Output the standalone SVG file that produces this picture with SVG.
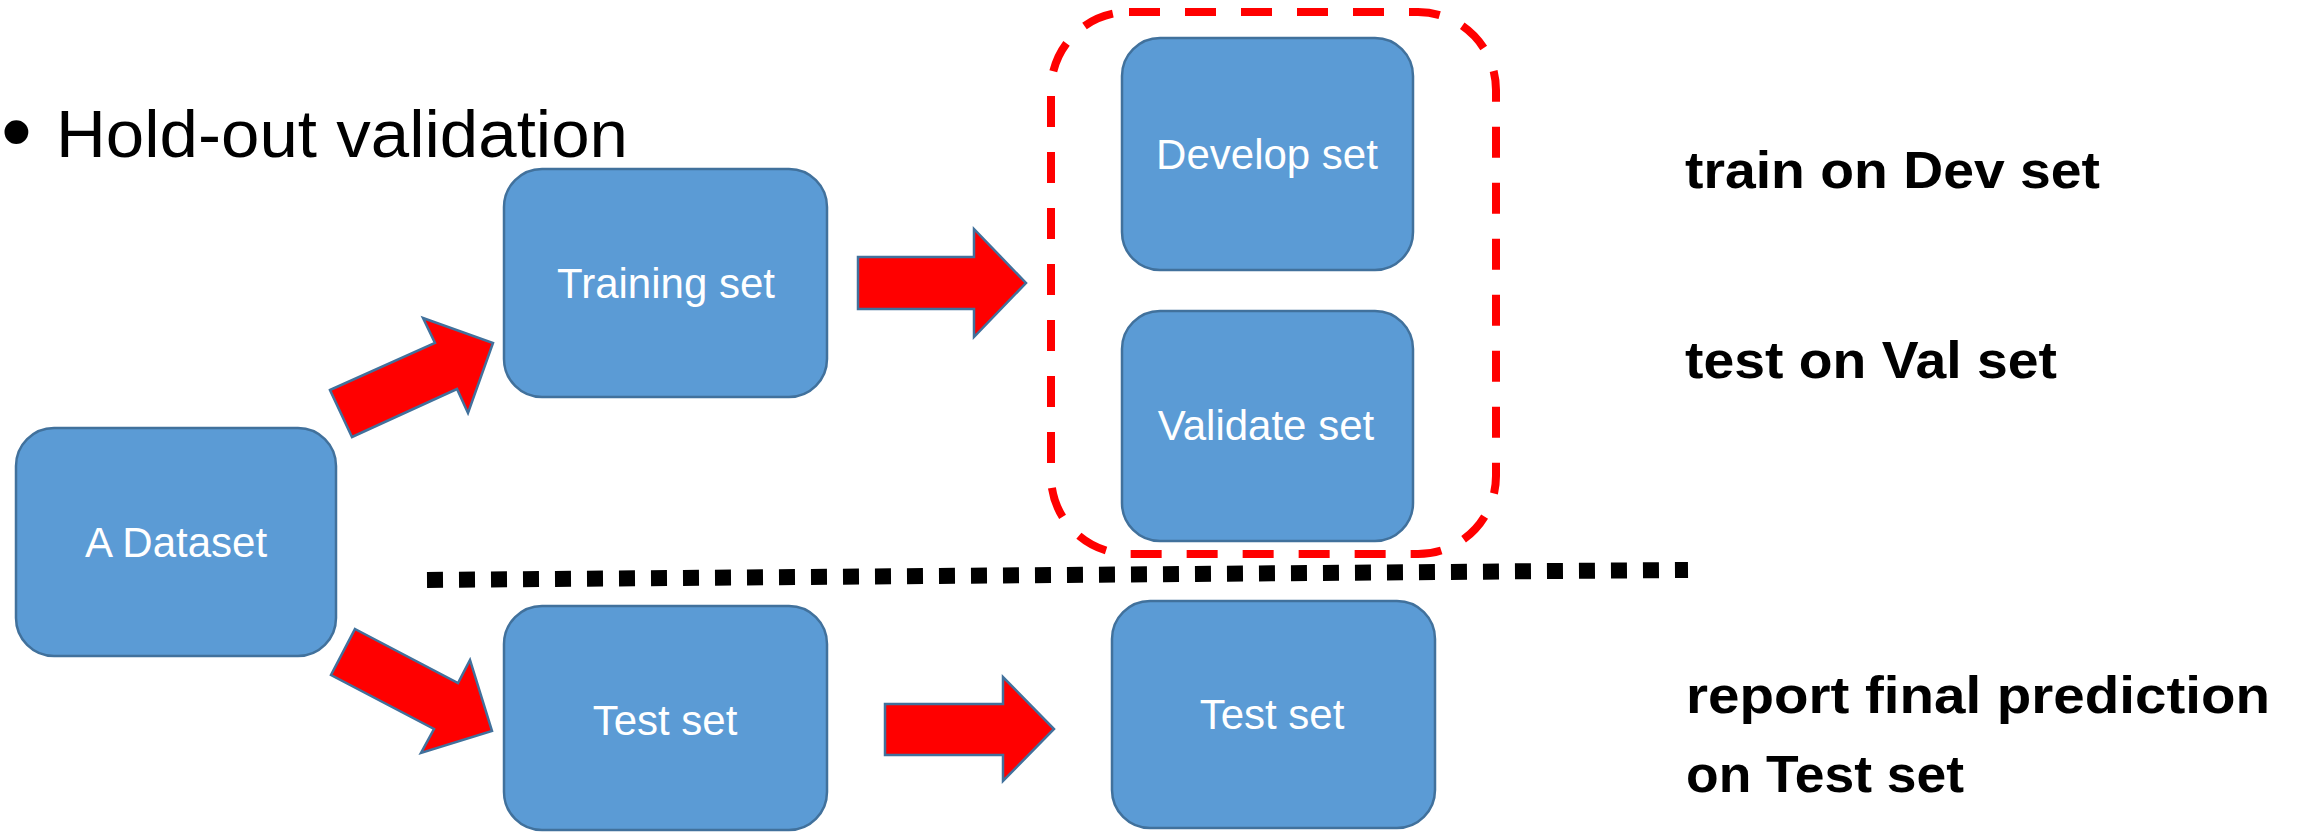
<svg xmlns="http://www.w3.org/2000/svg" width="2303" height="832" viewBox="0 0 2303 832">
  <style>
    .node rect { fill: #5B9BD5; stroke: #41719C; stroke-width: 2.5; }
    .node text { fill: #FFFFFF; font-family: "Liberation Sans", Arial, sans-serif; font-size: 42px; text-anchor: middle; }
    .arrow { fill: #FF0000; stroke: #41719C; stroke-width: 2.5; stroke-linejoin: miter; }
    .note { fill: #000000; font-family: "Liberation Sans", Arial, sans-serif; font-weight: bold; font-size: 52px; }
  </style>

  <!-- title bullet -->
  <text x="1" y="161" font-family="Liberation Sans, Arial, sans-serif" font-size="88" fill="#000">•</text>
  <text x="56" y="157" font-family="Liberation Sans, Arial, sans-serif" font-size="67" fill="#000" textLength="572" lengthAdjust="spacingAndGlyphs">Hold-out validation</text>

  <!-- grouping frame around the split of the training set -->
  <rect id="split-frame" x="1051" y="12" width="445" height="542" rx="78" ry="78" fill="none" stroke="#FF0000" stroke-width="8" stroke-dasharray="31 25"/>

  <!-- separator between training and test branches -->
  <line id="separator" x1="427" y1="580" x2="1688" y2="570" stroke="#000" stroke-width="16" stroke-dasharray="16 16"/>

  <g id="connectors">
    <polygon class="arrow" points="330,390 435,343 423,318 493,343 468,413 457,389 352,437"/>
    <polygon class="arrow" points="355,629 458,683 470,660 492,731 421,753 434,729 331,675"/>
    <polygon class="arrow" points="858,257 974,257 974,229 1026,283 974,337 974,309 858,309"/>
    <polygon class="arrow" points="885,704 1003,704 1003,677 1054,729 1003,781 1003,755 885,755"/>
  </g>

  <g id="dataset" class="node">
    <rect x="16" y="428" width="320" height="228" rx="38" ry="38"/>
    <text x="176" y="557">A Dataset</text>
  </g>
  <g id="training-set" class="node">
    <rect x="504" y="169" width="323" height="228" rx="38" ry="38"/>
    <text x="666" y="298">Training set</text>
  </g>
  <g id="test-set" class="node">
    <rect x="504" y="606" width="323" height="224" rx="38" ry="38"/>
    <text x="665" y="735">Test set</text>
  </g>
  <g id="develop-set" class="node">
    <rect x="1122" y="38" width="291" height="232" rx="38" ry="38"/>
    <text x="1267" y="169">Develop set</text>
  </g>
  <g id="validate-set" class="node">
    <rect x="1122" y="311" width="291" height="230" rx="38" ry="38"/>
    <text x="1266" y="440">Validate set</text>
  </g>
  <g id="final-test-set" class="node">
    <rect x="1112" y="601" width="323" height="227" rx="38" ry="38"/>
    <text x="1272" y="729">Test set</text>
  </g>

  <!-- annotations -->
  <g id="notes">
    <text class="note" x="1685" y="188" textLength="415" lengthAdjust="spacingAndGlyphs">train on Dev set</text>
    <text class="note" x="1685" y="378" textLength="372" lengthAdjust="spacingAndGlyphs">test on Val set</text>
    <text class="note" x="1686" y="713" textLength="584" lengthAdjust="spacingAndGlyphs">report final prediction</text>
    <text class="note" x="1686" y="792" textLength="278" lengthAdjust="spacingAndGlyphs">on Test set</text>
  </g>
</svg>
